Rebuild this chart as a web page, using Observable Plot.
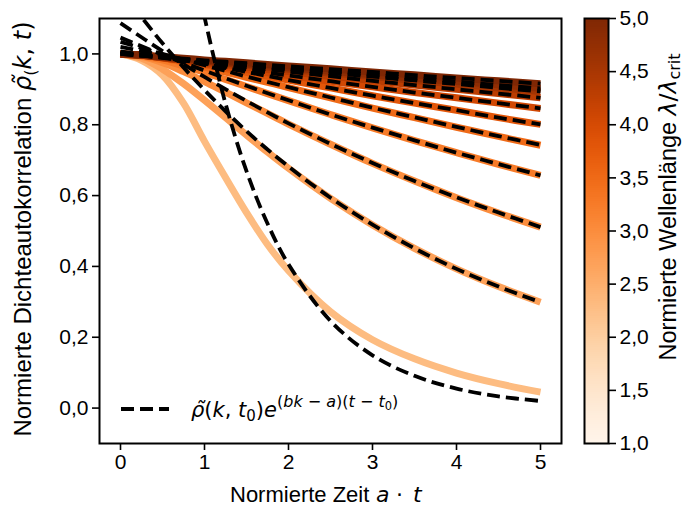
<!DOCTYPE html>
<html><head><meta charset="utf-8">
<script src="https://cdn.jsdelivr.net/npm/d3@7"></script>
<script src="https://cdn.jsdelivr.net/npm/@observablehq/plot@0.6"></script>
<style>
body{margin:0;background:#fff;}
#wrap{position:relative;width:687px;height:508px;overflow:hidden;}
#wrap svg{position:absolute;top:0;}
</style></head><body><div id="wrap"></div>
<script>
// wavelength (lambda / lambda_crit) of each curve
const lambdas = [2.3, 2.7, 3.0, 3.25, 3.5, 3.8, 4.05, 4.3, 4.55, 4.8, 5.0];
// time grid of the solid curves
const tSolid = [0, 0.25, 0.5, 0.75, 1, 1.25, 1.5, 1.75, 2, 2.5, 3, 3.5, 4, 4.5, 5];
const solid1  = [1.0, 0.982, 0.940, 0.861, 0.753, 0.651, 0.552, 0.462, 0.388, 0.272, 0.193, 0.139, 0.099, 0.069, 0.045];
const solid2  = [1.0, 0.988, 0.957, 0.916, 0.869, 0.820, 0.771, 0.723, 0.677, 0.592, 0.517, 0.451, 0.393, 0.343, 0.299];
const solid3  = [1.0, 0.993, 0.975, 0.950, 0.922, 0.892, 0.862, 0.832, 0.802, 0.745, 0.691, 0.641, 0.594, 0.551, 0.511];
const solid4  = [1.0, 0.995, 0.983, 0.966, 0.948, 0.928, 0.908, 0.888, 0.868, 0.829, 0.791, 0.755, 0.721, 0.688, 0.657];
const solid5  = [1.0, 0.997, 0.988, 0.976, 0.963, 0.949, 0.934, 0.920, 0.905, 0.876, 0.847, 0.820, 0.793, 0.767, 0.742];
const solid6  = [1.0, 0.997, 0.990, 0.981, 0.970, 0.959, 0.948, 0.937, 0.926, 0.904, 0.882, 0.861, 0.841, 0.820, 0.801];
const solid7  = [1.0, 0.996, 0.989, 0.981, 0.972, 0.964, 0.956, 0.947, 0.939, 0.923, 0.907, 0.891, 0.876, 0.861, 0.846];
const solid8  = [1.0, 0.996, 0.989, 0.982, 0.976, 0.969, 0.963, 0.956, 0.950, 0.937, 0.925, 0.912, 0.900, 0.888, 0.876];
const solid9  = [1.0, 0.996, 0.990, 0.984, 0.979, 0.973, 0.968, 0.962, 0.957, 0.946, 0.936, 0.925, 0.915, 0.904, 0.894];
const solid10 = [1.0, 0.996, 0.991, 0.986, 0.981, 0.976, 0.971, 0.966, 0.961, 0.951, 0.941, 0.931, 0.922, 0.913, 0.903];
const solid11 = [1.0, 0.997, 0.992, 0.988, 0.983, 0.979, 0.975, 0.970, 0.966, 0.958, 0.949, 0.941, 0.932, 0.924, 0.916];

// dashed exponential fits
const tDash1 = [0.9, 1, 1.25, 1.5, 1.75, 2, 2.5, 3, 3.5, 4, 4.5, 5];
const dash1  = [1.22, 1.104, 0.860, 0.669, 0.521, 0.406, 0.246, 0.149, 0.091, 0.055, 0.033, 0.020];
const tDash  = [0, 0.5, 1, 1.5, 2, 2.5, 3, 3.5, 4, 4.5, 5];
const dash2  = [1.181, 1.030, 0.898, 0.782, 0.682, 0.594, 0.518, 0.451, 0.393, 0.343, 0.299];
const dash3  = [1.087, 1.008, 0.935, 0.867, 0.804, 0.746, 0.692, 0.641, 0.595, 0.552, 0.511];
const dash4  = [1.046, 0.998, 0.953, 0.910, 0.869, 0.829, 0.792, 0.756, 0.721, 0.689, 0.657];
const dash5  = [1.034, 1.000, 0.968, 0.936, 0.906, 0.877, 0.848, 0.821, 0.794, 0.768, 0.743];
const dash6  = [1.020, 0.996, 0.972, 0.949, 0.926, 0.904, 0.882, 0.861, 0.841, 0.820, 0.801];
const dash7  = [1.007, 0.990, 0.973, 0.956, 0.939, 0.923, 0.907, 0.891, 0.876, 0.861, 0.846];
const dash8  = [1.003, 0.989, 0.976, 0.963, 0.950, 0.937, 0.924, 0.912, 0.900, 0.888, 0.876];
const dash9  = [1.001, 0.990, 0.979, 0.968, 0.957, 0.946, 0.936, 0.925, 0.915, 0.904, 0.894];
const dash10 = [1.000, 0.990, 0.980, 0.970, 0.960, 0.951, 0.941, 0.931, 0.922, 0.912, 0.903];
const dash11 = [1.000, 0.991, 0.982, 0.974, 0.965, 0.957, 0.949, 0.940, 0.932, 0.924, 0.916];

const xTicks = [0, 1, 2, 3, 4, 5];
const yTicks = [0, 0.2, 0.4, 0.6, 0.8, 1.0];
const cbTicks = [1, 1.5, 2, 2.5, 3, 3.5, 4, 4.5, 5];

const fmt = d => d3.format(".1f")(d).replace(".", ",");

const solids = [solid1, solid2, solid3, solid4, solid5, solid6, solid7, solid8, solid9, solid10, solid11];
const solidData = solids.flatMap((vals, i) => vals.map((v, j) => ({t: tSolid[j], rho: v, lam: lambdas[i], id: i})));
const dashes = [dash1, dash2, dash3, dash4, dash5, dash6, dash7, dash8, dash9, dash10, dash11];
const dashData = dashes.flatMap((vals, i) => vals.map((v, j) => ({t: (i === 0 ? tDash1 : tDash)[j], rho: v, id: i})));

const colorOpt = {type: "linear", scheme: "oranges", domain: [1, 5]};
const font = "'Liberation Sans', Arial, sans-serif";
const mathFont = "'DejaVu Sans', sans-serif";
const FS = 21;

const main = Plot.plot({
  width: 687, height: 508,
  marginLeft: 99, marginRight: 126, marginTop: 18, marginBottom: 65,
  x: {domain: [-0.25, 5.25]},
  y: {domain: [-0.1, 1.1]},
  color: colorOpt,
  style: {fontFamily: font, fontSize: FS + "px", color: "black", background: "transparent", overflow: "visible"},
  marks: [
    Plot.line(solidData, {x: "t", y: "rho", z: "id", stroke: "lam", strokeWidth: 7, curve: "catmull-rom", clip: true, strokeLinecap: "butt", strokeLinejoin: "round"}),
    Plot.line(dashData, {x: "t", y: "rho", z: "id", stroke: "black", strokeWidth: 3.8, strokeDasharray: "13,6", curve: "catmull-rom", clip: true, strokeLinecap: "butt"}),
    Plot.frame({stroke: "black", strokeWidth: 2}),
    Plot.axisX({ticks: xTicks, tickFormat: d => String(d), tickSize: 7, tickPadding: 4, label: null, strokeWidth: 1.6, fill: "black", fontSize: FS, fontFamily: font}),
    Plot.axisY({ticks: yTicks, tickFormat: fmt, tickSize: 7, tickPadding: 4, label: null, strokeWidth: 1.6, fill: "black", fontSize: FS, fontFamily: font})
  ]
});
main.style.left = "0px";
document.getElementById("wrap").appendChild(main);

// colour bar
const cbSteps = d3.range(1, 5, 0.02).map(v => ({y1: v, y2: Math.min(5, v + 0.022), v: v + 0.01}));
const cb = Plot.plot({
  width: 127, height: 508,
  marginLeft: 24, marginRight: 79, marginTop: 18, marginBottom: 65,
  x: {domain: [0, 1], axis: null},
  y: {domain: [1, 5]},
  color: colorOpt,
  style: {fontFamily: font, fontSize: FS + "px", color: "black", background: "transparent", overflow: "visible"},
  marks: [
    Plot.rect(cbSteps, {x1: 0, x2: 1, y1: "y1", y2: "y2", fill: "v", shapeRendering: "crispEdges"}),
    Plot.frame({stroke: "black", strokeWidth: 2}),
    Plot.axisY({anchor: "right", ticks: cbTicks, tickFormat: fmt, tickSize: 7, tickPadding: 4, label: null, strokeWidth: 1.6, fill: "black", fontSize: FS, fontFamily: font})
  ]
});
cb.style.left = "560px";
document.getElementById("wrap").appendChild(cb);

// axis labels and legend (text)
const svg = d3.select(main);
// x label
const XS = 22;
const xl = svg.append("text").attr("x", 230).attr("y", 502).attr("text-anchor", "start")
  .attr("font-family", font).attr("font-size", XS).attr("fill", "black");
xl.append("tspan").text("Normierte Zeit");
xl.append("tspan").attr("x", 376).attr("font-family", mathFont).attr("font-style", "italic").text("a");
xl.append("tspan").attr("x", 396).attr("font-family", mathFont).text("·");
xl.append("tspan").attr("x", 413).attr("font-family", mathFont).attr("font-style", "italic").text("t");
// y label
const YS = 24;
const yl = svg.append("text").attr("transform", "translate(31,229) rotate(-90)").attr("text-anchor", "middle")
  .attr("font-family", font).attr("font-size", YS).attr("fill", "black");
yl.append("tspan").text("Normierte Dichteautokorrelation ");
yl.append("tspan").attr("font-family", mathFont).attr("font-style", "italic").text("ρ\u0303");
yl.append("tspan").attr("font-family", mathFont).attr("font-size", 16.5).attr("dy", 5).text("(");
yl.append("tspan").attr("font-family", mathFont).attr("font-style", "italic").attr("dy", -5).text("k");
yl.append("tspan").attr("font-family", mathFont).text(", ");
yl.append("tspan").attr("font-family", mathFont).attr("font-style", "italic").text("t");
yl.append("tspan").attr("font-family", mathFont).text(")");

// legend
svg.append("line").attr("x1", 121).attr("x2", 169).attr("y1", 409).attr("y2", 409)
  .attr("stroke", "black").attr("stroke-width", 3.8).attr("stroke-dasharray", "13,6");
const lg = svg.append("text").attr("x", 191).attr("y", 417).attr("text-anchor", "start")
  .attr("font-family", mathFont).attr("font-size", FS).attr("fill", "black");
lg.append("tspan").attr("font-style", "italic").text("ρ\u0303");
lg.append("tspan").text("(");
lg.append("tspan").attr("font-style", "italic").text("k");
lg.append("tspan").text(", ");
lg.append("tspan").attr("font-style", "italic").text("t");
lg.append("tspan").attr("font-size", 15).attr("dy", 4).text("0");
lg.append("tspan").attr("dy", -4).text(")");
lg.append("tspan").attr("font-style", "italic").text("e");
const SS = 16;
lg.append("tspan").attr("font-size", SS).attr("dy", -10).text("(");
lg.append("tspan").attr("font-size", SS).attr("font-style", "italic").text("bk");
lg.append("tspan").attr("font-size", SS).text(" − ");
lg.append("tspan").attr("font-size", SS).attr("font-style", "italic").text("a");
lg.append("tspan").attr("font-size", SS).text(")(");
lg.append("tspan").attr("font-size", SS).attr("font-style", "italic").text("t");
lg.append("tspan").attr("font-size", SS).text(" − ");
lg.append("tspan").attr("font-size", SS).attr("font-style", "italic").text("t");
lg.append("tspan").attr("font-size", 11.5).attr("dy", 3).text("0");
lg.append("tspan").attr("font-size", SS).attr("dy", -3).text(")");

// colour bar label
const CS = 23.5;
const cl = d3.select(cb).append("text").attr("transform", "translate(116,207) rotate(-90)").attr("text-anchor", "middle")
  .attr("font-family", font).attr("font-size", CS).attr("fill", "black");
cl.append("tspan").text("Normierte Wellenlänge ");
cl.append("tspan").attr("font-family", mathFont).attr("font-style", "italic").text("λ");
cl.append("tspan").attr("font-family", mathFont).text("/");
cl.append("tspan").attr("font-family", mathFont).attr("font-style", "italic").text("λ");
cl.append("tspan").attr("font-family", mathFont).attr("font-size", 16).attr("dy", 4).text("crit");
</script>
</body></html>
